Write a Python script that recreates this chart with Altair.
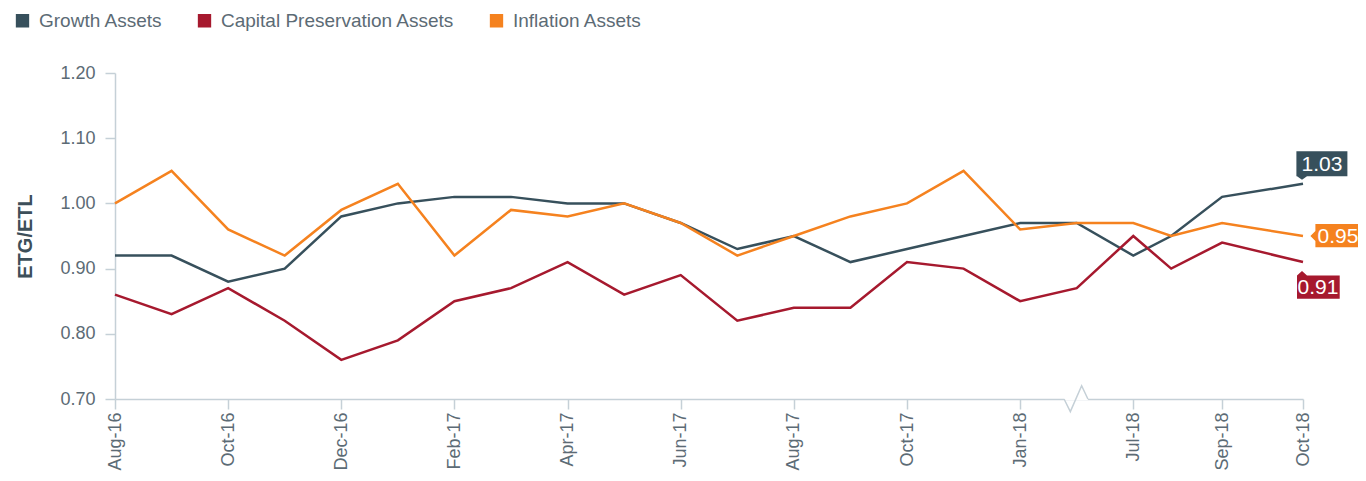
import altair as alt
import pandas as pd

# ---------------- data ----------------
months = ["Aug-16", "Sep-16", "Oct-16", "Nov-16", "Dec-16", "Jan-17", "Feb-17", "Mar-17",
          "Apr-17", "May-17", "Jun-17", "Jul-17", "Aug-17", "Sep-17", "Oct-17", "Dec-17",
          "Jan-18", "Apr-18", "Jul-18", "Aug-18", "Sep-18", "Oct-18"]
slots = [0, 1, 2, 3, 4, 5, 6, 7, 8, 9, 10, 11, 12, 13, 14, 15, 16, 17, 18, 18.67, 19.57, 21]
growth = [0.92, 0.92, 0.88, 0.90, 0.98, 1.00, 1.01, 1.01, 1.00, 1.00, 0.97, 0.93, 0.95, 0.91,
          0.93, 0.95, 0.97, 0.97, 0.92, 0.95, 1.01, 1.03]
capital = [0.86, 0.83, 0.87, 0.82, 0.76, 0.79, 0.85, 0.87, 0.91, 0.86, 0.89, 0.82, 0.84, 0.84,
           0.91, 0.90, 0.85, 0.87, 0.95, 0.90, 0.94, 0.91]
inflation = [1.00, 1.05, 0.96, 0.92, 0.99, 1.03, 0.92, 0.99, 0.98, 1.00, 0.97, 0.92, 0.95, 0.98,
             1.00, 1.05, 0.96, 0.97, 0.97, 0.95, 0.97, 0.95]
series_names = ["Growth Assets", "Capital Preservation Assets", "Inflation Assets"]
series_colors = ["#37505c", "#a6192e", "#f5821f"]
tick_months = ["Aug-16", "Oct-16", "Dec-16", "Feb-17", "Apr-17", "Jun-17", "Aug-17", "Oct-17",
               "Jan-18", "Jul-18", "Sep-18", "Oct-18"]
break_month = "Apr-18"

# ---------------- tables ----------------
rows = []
for name, vals in zip(series_names, [growth, capital, inflation]):
    for m, s, v in zip(months, slots, vals):
        rows.append({"month": m, "slot": s, "series": name, "value": v})
df = pd.DataFrame(rows)
last = df[df["slot"] == slots[-1]].copy()
last["label"] = last["value"].map(lambda v: f"{v:.2f}")

tick_vals = [slots[months.index(m)] for m in tick_months]
label_expr = "''"
for v, m in reversed(list(zip(tick_vals, tick_months))):
    label_expr = f"datum.value == {v} ? '{m}' : ({label_expr})"

brk = pd.DataFrame({"slot": [slots[months.index(break_month)]], "value": [0.70]})

AXIS = "#c5d0d7"
TXT = "#5c6b75"
FONT = "Liberation Sans"

x_scale = alt.Scale(domain=[0, 21], nice=False, zero=False)
y_scale = alt.Scale(domain=[0.70, 1.20], nice=False, zero=False)

x_enc = alt.X("slot:Q", scale=x_scale, title=None,
              axis=alt.Axis(values=tick_vals, labelExpr=label_expr, labelAngle=-90,
                            tickSize=10, labelPadding=3, grid=False, labelFontSize=18,
                            labelColor=TXT, domainColor=AXIS, tickColor=AXIS,
                            domainWidth=1.5, tickWidth=1.5, labelFont=FONT))
y_enc = alt.Y("value:Q", scale=y_scale, title="ETG/ETL",
              axis=alt.Axis(values=[0.7, 0.8, 0.9, 1.0, 1.1, 1.2], format=".2f", tickSize=10,
                            labelPadding=10, grid=False, labelFontSize=18, labelColor=TXT,
                            domainColor=AXIS, tickColor=AXIS, domainWidth=1.5, tickWidth=1.5,
                            titleFontSize=20, titleFontWeight="bold", titleColor="#3d4f5a",
                            titlePadding=24, labelFont=FONT, titleFont=FONT))
xq = alt.X("slot:Q", scale=x_scale)
yq = alt.Y("value:Q", scale=y_scale)

# legend-only layer (filled squares, no rows drawn)
legend_layer = alt.Chart(df).transform_filter("datum.value < 0").mark_square(
    filled=True, opacity=1).encode(
    x=x_enc, y=y_enc,
    color=alt.Color("series:N", scale=alt.Scale(domain=series_names, range=series_colors),
                    sort=series_names, title=None,
                    legend=alt.Legend(orient="none", legendX=-102, legendY=-62,
                                      direction="horizontal", symbolType="square",
                                      symbolSize=140, labelFontSize=19, labelColor=TXT,
                                      labelFont=FONT, labelOffset=7, columnPadding=32,
                                      padding=0, labelLimit=0)),
)

lines = alt.Chart(df).mark_line(strokeWidth=2.5).encode(
    x=xq, y=yq,
    stroke=alt.Stroke("series:N", scale=alt.Scale(domain=series_names, range=series_colors),
                      legend=None),
    detail="series:N",
)

# axis break marker
mask_path = "M -0.95 -0.09 L 0.84 -0.09 L 0.84 0.09 L -0.95 0.09 Z"
zig_path = "M -0.95 0 L -0.48 0.95 L 0.37 -1 L 0.84 0"
brk_mask = alt.Chart(brk).mark_point(shape=mask_path, size=708, filled=True, fill="white",
                                     strokeWidth=0, opacity=1).encode(x=xq, y=yq)
brk_zig = alt.Chart(brk).mark_point(shape=zig_path, size=708, filled=False, stroke=AXIS,
                                    strokeWidth=1.5, opacity=1).encode(x=xq, y=yq)

# value callout boxes (path units: r = 50px)
box_paths = {
    "Growth Assets": "M -0.132 -0.654 L 0.888 -0.654 L 0.888 -0.154 L 0.08 -0.154 L -0.02 -0.08 L -0.12 -0.154 L -0.132 -0.154 Z",
    "Inflation Assets": "M 0.248 -0.24 L 1.16 -0.24 L 1.16 0.226 L 0.248 0.226 L 0.248 0.1 L 0.148 0 L 0.248 -0.1 Z",
    "Capital Preservation Assets": "M -0.12 0.266 L -0.12 0.732 L 0.734 0.732 L 0.734 0.266 L 0.08 0.266 L -0.02 0.18 L -0.12 0.266 Z",
}
text_offsets = {
    "Growth Assets": (19, -19),
    "Inflation Assets": (35, 1),
    "Capital Preservation Assets": (15, 26),
}

callouts = []
for name, col in zip(series_names, series_colors):
    sub = last[last["series"] == name]
    callouts.append(alt.Chart(sub).mark_point(
        shape=box_paths[name], size=10000, filled=True, fill=col, opacity=1, strokeWidth=0
    ).encode(x=xq, y=yq))
for name in series_names:
    sub = last[last["series"] == name]
    dx, dy = text_offsets[name]
    callouts.append(alt.Chart(sub).mark_text(
        color="white", fontSize=21, font=FONT, dx=dx, dy=dy, align="center", baseline="middle"
    ).encode(x=xq, y=yq, text="label:N"))

chart = alt.layer(legend_layer, lines, brk_mask, brk_zig, *callouts).properties(
    width=1188, height=326,
    padding={"left": 107, "top": 65, "right": 55, "bottom": 72},
    autosize=alt.AutoSizeParams(type="none"),
    background="white",
).configure_view(stroke=None)

chart.save("out.html", embed_options={"renderer": "svg", "actions": False})
